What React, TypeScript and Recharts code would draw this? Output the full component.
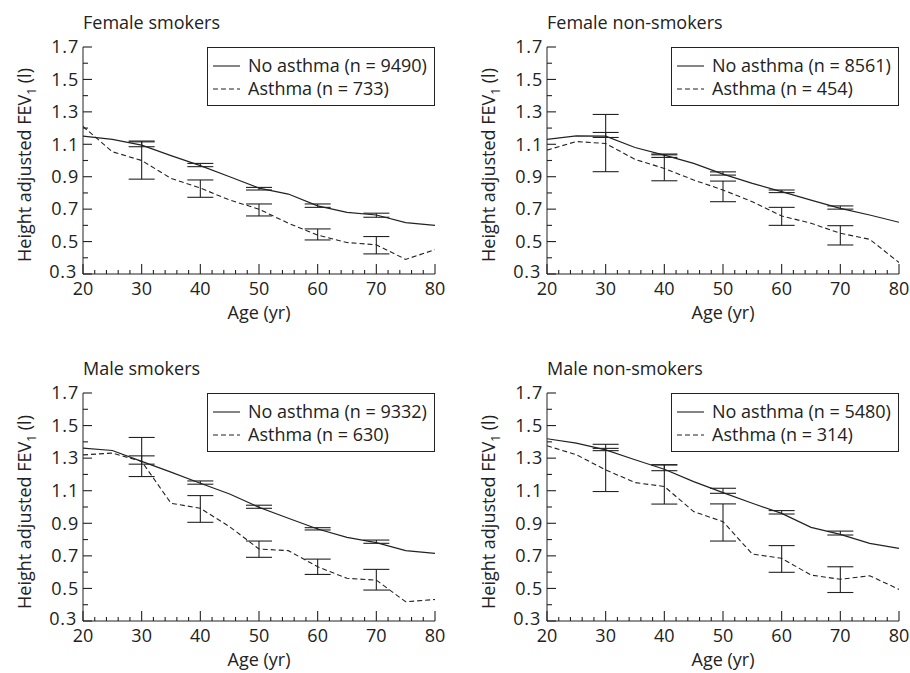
import React from 'react'
import { LineChart, Line, XAxis, YAxis, ErrorBar, Legend } from 'recharts'

// ages at which the curves are drawn
const ages = [20, 25, 30, 35, 40, 45, 50, 55, 60, 65, 70, 75, 80]
// ages with confidence intervals
const ciAges = [30, 40, 50, 60, 70]

const xTicks = [20, 22, 24, 26, 28, 30, 32, 34, 36, 38, 40, 42, 44, 46, 48, 50, 52, 54, 56, 58, 60, 62, 64, 66, 68, 70, 72, 74, 76, 78, 80]
const yTicks = [0.3, 0.4, 0.5, 0.6, 0.7, 0.8, 0.9, 1.0, 1.1, 1.2, 1.3, 1.4, 1.5, 1.6, 1.7]

// Female smokers
const fsNoAsthma = [1.15, 1.13, 1.095, 1.03, 0.968, 0.9, 0.83, 0.793, 0.72, 0.68, 0.664, 0.617, 0.6]
const fsAsthma = [1.21, 1.054, 1.0, 0.89, 0.83, 0.756, 0.7, 0.613, 0.54, 0.494, 0.48, 0.39, 0.45]
const fsNoLow = [1.085, 0.962, 0.818, 0.711, 0.65]
const fsNoHigh = [1.115, 0.982, 0.834, 0.732, 0.675]
const fsALow = [0.885, 0.773, 0.658, 0.51, 0.424]
const fsAHigh = [1.12, 0.88, 0.732, 0.578, 0.531]

// Female non-smokers
const fnNoAsthma = [1.13, 1.152, 1.15, 1.08, 1.033, 0.982, 0.916, 0.859, 0.808, 0.756, 0.705, 0.664, 0.619]
const fnAsthma = [1.064, 1.117, 1.105, 1.007, 0.951, 0.88, 0.818, 0.746, 0.658, 0.613, 0.551, 0.514, 0.371]
const fnNoLow = [1.142, 1.019, 0.91, 0.802, 0.7]
const fnNoHigh = [1.173, 1.04, 0.93, 0.818, 0.72]
const fnALow = [0.931, 0.875, 0.746, 0.6, 0.479]
const fnAHigh = [1.284, 1.035, 0.873, 0.711, 0.598]

// Male smokers
const msNoAsthma = [1.362, 1.347, 1.28, 1.214, 1.146, 1.08, 0.998, 0.931, 0.865, 0.814, 0.781, 0.732, 0.715]
const msAsthma = [1.32, 1.331, 1.28, 1.023, 0.992, 0.879, 0.742, 0.732, 0.633, 0.562, 0.551, 0.418, 0.432]
const msNoLow = [1.263, 1.14, 0.992, 0.859, 0.777]
const msNoHigh = [1.314, 1.16, 1.011, 0.873, 0.797]
const msALow = [1.187, 0.906, 0.691, 0.586, 0.49]
const msAHigh = [1.427, 1.07, 0.791, 0.68, 0.617]

// Male non-smokers
const mnNoAsthma = [1.419, 1.392, 1.351, 1.29, 1.232, 1.156, 1.088, 1.023, 0.961, 0.875, 0.832, 0.777, 0.746]
const mnAsthma = [1.376, 1.321, 1.228, 1.15, 1.126, 0.972, 0.91, 0.711, 0.685, 0.582, 0.556, 0.578, 0.494]
const mnNoLow = [1.346, 1.223, 1.084, 0.957, 0.828]
const mnNoHigh = [1.385, 1.258, 1.115, 0.978, 0.852]
const mnALow = [1.095, 1.018, 0.791, 0.599, 0.475]
const mnAHigh = [1.36, 1.26, 1.019, 0.763, 0.633]

const INK = '#222'
const FONT = '"Open Sans", sans-serif'

const buildData = (no: number[], as: number[], noLow: number[], noHigh: number[], aLow: number[], aHigh: number[]) =>
  ages.map((age, i) => {
    const k = ciAges.indexOf(age)
    return {
      age,
      noAsthma: no[i],
      asthma: as[i],
      noErr: k >= 0 ? [no[i] - noLow[k], noHigh[k] - no[i]] : undefined,
      aErr: k >= 0 ? [as[i] - aLow[k], aHigh[k] - as[i]] : undefined,
    }
  })

const panels = [
  { title: 'Female smokers', nNo: 9490, nA: 733, data: buildData(fsNoAsthma, fsAsthma, fsNoLow, fsNoHigh, fsALow, fsAHigh), left: 0, top: 0, height: 330, mTop: 47, xH: 56, yW: 83, mRight: 20 },
  { title: 'Female non-smokers', nNo: 8561, nA: 454, data: buildData(fnNoAsthma, fnAsthma, fnNoLow, fnNoHigh, fnALow, fnAHigh), left: 455, top: 0, height: 330, mTop: 47, xH: 56, yW: 92, mRight: 11 },
  { title: 'Male smokers', nNo: 9332, nA: 630, data: buildData(msNoAsthma, msAsthma, msNoLow, msNoHigh, msALow, msAHigh), left: 0, top: 330, height: 343, mTop: 63, xH: 52, yW: 83, mRight: 20 },
  { title: 'Male non-smokers', nNo: 5480, nA: 314, data: buildData(mnNoAsthma, mnAsthma, mnNoLow, mnNoHigh, mnALow, mnAHigh), left: 455, top: 330, height: 343, mTop: 63, xH: 52, yW: 92, mRight: 11 },
]

const XTick = (props: any) => {
  const { x, y, payload } = props
  const major = payload.value % 10 === 0
  return (
    <g>
      <line x1={x} x2={x} y1={y} y2={y - (major ? 10 : 4)} stroke={INK} strokeWidth={1.1} />
      {major && (
        <text x={x} y={y + 15} dy="0.35em" textAnchor="middle" fontSize={18} fill={INK} fontFamily={FONT}>
          {payload.value}
        </text>
      )}
    </g>
  )
}

const YTick = (props: any) => {
  const { x, y, payload } = props
  const major = Math.round(payload.value * 10) % 2 === 1
  const bottom = payload.value < 0.35
  return (
    <g>
      <line x1={x} x2={x + (major ? 9 : 5)} y1={y} y2={y} stroke={INK} strokeWidth={1.1} />
      {major && (
        <text x={bottom ? x - 6 : x - 4} y={bottom ? y - 2 : y} dy="0.35em" textAnchor="end" fontSize={18} letterSpacing={0.8} fill={INK} fontFamily={FONT}>
          {payload.value.toFixed(1)}
        </text>
      )}
    </g>
  )
}

const YLabel = (props: any) => {
  const { viewBox } = props
  const cx = viewBox.x + viewBox.width - 58
  const by = viewBox.y + viewBox.height - 12
  return (
    <text x={cx} y={by} dy="0.35em" textAnchor="start" fontSize={18} fill={INK} fontFamily={FONT} transform={`rotate(-90, ${cx}, ${by})`}>
      Height adjusted FEV<tspan fontSize={12} dy={5}>1</tspan><tspan dy={-5}> (l)</tspan>
    </text>
  )
}

const XLabel = (props: any) => {
  const { viewBox } = props
  return (
    <text x={viewBox.x + viewBox.width / 2} y={viewBox.y + 39} dy="0.35em" textAnchor="middle" fontSize={18} fill={INK} fontFamily={FONT}>
      Age (yr)
    </text>
  )
}

const LegendBox = ({ nNo, nA }: { nNo: number; nA: number }) => {
  const row = (dash: string | undefined, text: string) => (
    <div style={{ display: 'flex', alignItems: 'center', height: 23 }}>
      <svg width={40} height={10} style={{ flexShrink: 0 }}>
        <line x1={5} x2={32} y1={5} y2={5} stroke={INK} strokeWidth={1.1} strokeDasharray={dash} />
      </svg>
      <span>{text}</span>
    </div>
  )
  return (
    <div style={{ border: `1px solid ${INK}`, boxSizing: 'border-box', width: 228, height: 59, padding: '6px 0 0 0', fontFamily: FONT, fontSize: 18, color: INK, background: '#fff', lineHeight: '23px' }}>
      {row(undefined, `No asthma (n = ${nNo})`)}
      {row('5 3', `Asthma (n = ${nA})`)}
    </div>
  )
}

const Panel = ({ p }: { p: (typeof panels)[number] }) => (
  <div style={{ position: 'absolute', left: p.left, top: p.top, width: 455, height: p.height }}>
    <LineChart width={455} height={p.height} data={p.data} margin={{ top: p.mTop, right: p.mRight, bottom: 0, left: 0 }}>
      <XAxis type="number" dataKey="age" domain={[20, 80]} ticks={xTicks} interval={0} tickSize={0} tickMargin={0} tick={XTick} height={p.xH} stroke={INK} allowDataOverflow label={{ content: XLabel }} />
      <YAxis type="number" domain={[0.3, 1.7]} ticks={yTicks} interval={0} tickSize={0} tickMargin={0} tick={YTick} width={p.yW} stroke={INK} allowDataOverflow label={{ content: YLabel }} />
      <Legend layout="vertical" align="center" verticalAlign="middle" wrapperStyle={{ left: 455 - p.mRight - 228, top: p.mTop, width: 228 }} content={() => <LegendBox nNo={p.nNo} nA={p.nA} />} />
      <Line type="linear" dataKey="noAsthma" stroke={INK} strokeWidth={1.2} dot={false} isAnimationActive={false}>
        <ErrorBar dataKey="noErr" width={13} stroke={INK} strokeWidth={1.1} direction="y" />
      </Line>
      <Line type="linear" dataKey="asthma" stroke={INK} strokeWidth={1.1} strokeDasharray="5 3" dot={false} isAnimationActive={false}>
        <ErrorBar dataKey="aErr" width={13} stroke={INK} strokeWidth={1.1} direction="y" />
      </Line>
    </LineChart>
    <div style={{ position: 'absolute', left: p.yW, top: p.mTop - 37, fontFamily: FONT, fontSize: 18, color: INK, lineHeight: '24px', whiteSpace: 'nowrap' }}>
      {p.title}
    </div>
  </div>
)

export default function App() {
  return (
    <div style={{ position: 'absolute', left: 0, top: 0, width: 910, height: 673, background: '#fff' }}>
      {panels.map((p) => (
        <Panel key={p.title} p={p} />
      ))}
    </div>
  )
}
